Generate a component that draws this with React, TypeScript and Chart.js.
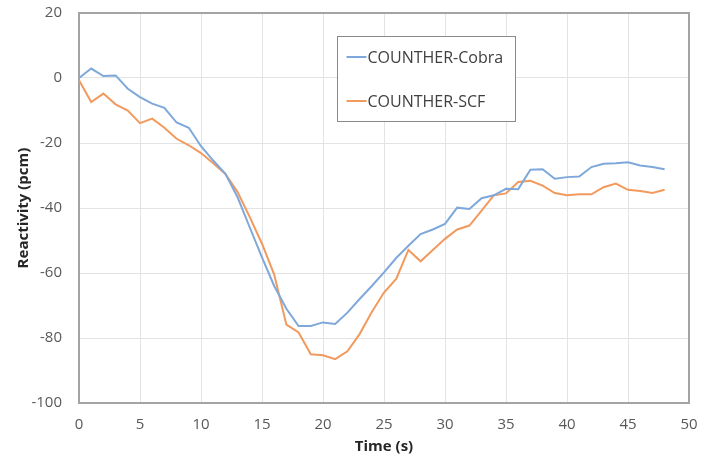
import React, { useEffect, useRef } from "react";
import { Chart, registerables } from "chart.js";

Chart.register(...registerables);

const timeSec: number[] = [
  0, 1, 2, 3, 4, 5, 6, 7, 8, 9, 10, 11, 12, 13, 14, 15, 16, 17, 18, 19, 20, 21, 22, 23, 24,
  25, 26, 27, 28, 29, 30, 31, 32, 33, 34, 35, 36, 37, 38, 39, 40, 41, 42, 43, 44, 45, 46, 47, 48,
];

const cobra: number[] = [
  0, 2.9, 0.6, 0.8, -3.3, -5.9, -7.9, -9.2, -13.7, -15.3, -21, -25.4, -29.5, -36.7, -46, -55.2,
  -64, -71, -76.3, -76.3, -75.2, -75.7, -72.2, -68, -64, -59.8, -55.4, -51.6, -48, -46.6, -44.9,
  -39.9, -40.3, -37, -36.1, -34.1, -34.2, -28.2, -28.1, -31, -30.5, -30.3, -27.4, -26.4, -26.2,
  -25.9, -26.9, -27.4, -28.1,
];

const scf: number[] = [
  -0.7, -7.4, -4.8, -8.1, -10, -13.9, -12.5, -15.3, -18.7, -20.7, -23.1, -26.2, -29.5, -35.1,
  -42.8, -51, -60.5, -75.9, -78.3, -85, -85.3, -86.5, -84.1, -78.8, -72, -66, -61.8, -52.9, -56.4,
  -52.9, -49.5, -46.6, -45.4, -40.8, -36.1, -35.5, -32, -31.6, -33.1, -35.4, -36.1, -35.8, -35.8,
  -33.6, -32.5, -34.4, -34.8, -35.4, -34.4,
];

const seriesNames: string[] = ["COUNTHER-Cobra", "COUNTHER-SCF"];
const seriesColors: string[] = ["#7fa8da", "#f29a5e"];

const xTitle = "Time (s)";
const yTitle = "Reactivity (pcm)";

const FONT = "'Open Sans', 'DejaVu Sans', sans-serif";

const framePlugin = {
  id: "plotFrame",
  beforeDatasetsDraw(chart: any) {
    const { ctx, chartArea } = chart;
    ctx.save();
    ctx.strokeStyle = "#a3a3a3";
    ctx.lineWidth = 2;
    ctx.strokeRect(
      chartArea.left,
      chartArea.top,
      chartArea.right - chartArea.left,
      chartArea.bottom - chartArea.top
    );
    ctx.restore();
  },
};

const insideLegendPlugin = {
  id: "insideLegend",
  afterDatasetsDraw(chart: any) {
    const { ctx, chartArea } = chart;
    const x = chartArea.left + 258.5;
    const y = chartArea.top + 23.5;
    const w = 178;
    const h = 85;
    ctx.save();
    ctx.fillStyle = "#ffffff";
    ctx.fillRect(x, y, w, h);
    ctx.strokeStyle = "#8a8a8a";
    ctx.lineWidth = 1;
    ctx.strokeRect(x, y, w, h);
    ctx.font = `16px ${FONT}`;
    ctx.textBaseline = "middle";
    ctx.textAlign = "left";
    chart.data.datasets.forEach((ds: any, i: number) => {
      const cy = y + 20.5 + i * 44;
      ctx.strokeStyle = ds.borderColor;
      ctx.lineWidth = 2;
      ctx.beginPath();
      ctx.moveTo(x + 9, cy);
      ctx.lineTo(x + 29, cy);
      ctx.stroke();
      ctx.fillStyle = "#404040";
      ctx.fillText(ds.label, x + 30, cy + 1);
    });
    ctx.restore();
  },
};

export default function App() {
  const canvasRef = useRef<HTMLCanvasElement | null>(null);

  useEffect(() => {
    const canvas = canvasRef.current;
    if (!canvas) return;
    const chart = new Chart(canvas, {
      type: "line",
      data: {
        datasets: [
          {
            label: seriesNames[0],
            data: timeSec.map((t, i) => ({ x: t, y: cobra[i] })),
            borderColor: seriesColors[0],
            backgroundColor: seriesColors[0],
            borderWidth: 2,
            pointRadius: 0,
            tension: 0,
            fill: false,
          },
          {
            label: seriesNames[1],
            data: timeSec.map((t, i) => ({ x: t, y: scf[i] })),
            borderColor: seriesColors[1],
            backgroundColor: seriesColors[1],
            borderWidth: 2,
            pointRadius: 0,
            tension: 0,
            fill: false,
          },
        ],
      },
      options: {
        responsive: false,
        animation: false,
        devicePixelRatio: 1,
        layout: { padding: { top: 13, right: 12, left: 0, bottom: 0 } },
        plugins: {
          legend: { display: false },
          tooltip: { enabled: false },
        },
        scales: {
          x: {
            type: "linear",
            min: 0,
            max: 50,
            afterFit: (s: any) => {
              s.height = 55;
              s.paddingLeft = 0;
              s.paddingRight = 0;
              s.paddingTop = 0;
              s.paddingBottom = 0;
            },
            ticks: {
              stepSize: 5,
              padding: 13,
              color: "#595959",
              font: { family: FONT, size: 15 },
            },
            grid: { color: "#e3e3e3", lineWidth: 1, drawTicks: false },
            border: { display: false },
            title: {
              display: true,
              text: xTitle,
              color: "#262626",
              font: { family: FONT, size: 15, weight: "bold" },
              padding: { top: 0, bottom: 2 },
            },
          },
          y: {
            type: "linear",
            min: -100,
            max: 20,
            afterFit: (s: any) => {
              s.width = 79;
              s.paddingLeft = 0;
              s.paddingRight = 0;
              s.paddingTop = 0;
              s.paddingBottom = 0;
            },
            ticks: {
              stepSize: 20,
              padding: 17,
              color: "#595959",
              font: { family: FONT, size: 15 },
            },
            grid: { color: "#e3e3e3", lineWidth: 1, drawTicks: false },
            border: { display: false },
            title: {
              display: true,
              text: yTitle,
              color: "#262626",
              font: { family: FONT, size: 15, weight: "bold" },
              padding: { top: 15, bottom: 0 },
            },
          },
        },
      },
      plugins: [framePlugin, insideLegendPlugin],
    });
    return () => chart.destroy();
  }, []);

  return (
    <div style={{ position: "fixed", left: 0, top: 0, width: 701, height: 458, background: "#fff" }}>
      <canvas ref={canvasRef} width={701} height={458} style={{ width: 701, height: 458, display: "block" }} />
    </div>
  );
}
